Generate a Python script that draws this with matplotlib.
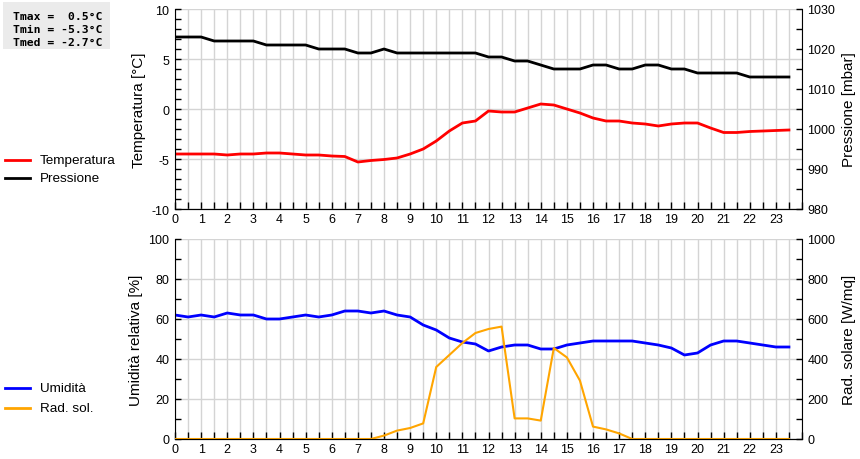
import numpy as np
import matplotlib
matplotlib.use('Agg')
import matplotlib.pyplot as plt
from matplotlib.lines import Line2D
from matplotlib.patches import Rectangle
from matplotlib.ticker import MultipleLocator

plt.rcParams['font.family'] = ['Liberation Sans', 'DejaVu Sans']
plt.rcParams['axes.unicode_minus'] = False

# orari ogni mezz'ora
ore = np.arange(48) * 0.5

temperatura = [-4.5, -4.5, -4.5, -4.5, -4.6, -4.5, -4.5, -4.4, -4.4, -4.5, -4.6, -4.6,
               -4.7, -4.75, -5.3, -5.15, -5.05, -4.9, -4.5, -4.0, -3.2, -2.2, -1.4, -1.2,
               -0.2, -0.3, -0.3, 0.1, 0.5, 0.4, 0.0, -0.4, -0.9, -1.2, -1.2, -1.4,
               -1.5, -1.7, -1.5, -1.4, -1.4, -1.9, -2.35, -2.35, -2.25, -2.2, -2.15, -2.1]

pressione = [1023, 1023, 1023, 1022, 1022, 1022, 1022, 1021, 1021, 1021, 1021, 1020,
             1020, 1020, 1019, 1019, 1020, 1019, 1019, 1019, 1019, 1019, 1019, 1019,
             1018, 1018, 1017, 1017, 1016, 1015, 1015, 1015, 1016, 1016, 1015, 1015,
             1016, 1016, 1015, 1015, 1014, 1014, 1014, 1014, 1013, 1013, 1013, 1013]

umidita = [62, 61, 62, 61, 63, 62, 62, 60, 60, 61, 62, 61,
           62, 64, 64, 63, 64, 62, 61, 57, 54.5, 50.5, 48.5, 47.5,
           44, 46, 47, 47, 45, 45, 47, 48, 49, 49, 49, 49,
           48, 47, 45.5, 42, 43, 47, 49, 49, 48, 47, 46, 46]

radiazione = [0, 0, 0, 0, 0, 0, 0, 0, 0, 0, 0, 0, 0, 0, 0, 0,
              17, 42, 55, 78, 360, 420, 480, 530, 550, 562, 103, 103, 92, 455, 408, 292,
              62, 48, 28, 0, 0, 0, 0, 0, 0, 0, 0, 0, 0, 0, 0, 0]

statistiche = ['Tmax =  0.5°C', 'Tmin = -5.3°C', 'Tmed = -2.7°C']

W, H = 860, 460
fig = plt.figure(figsize=(W / 100, H / 100), dpi=100)


def fx(px):
    return px / W


def fy(py):
    return 1 - py / H


griglia = '#d4d4d4'


def prepara(ax, axr, ylim, yr_lim, maj, mino, rmaj, rmino):
    ax.set_xlim(0, 24)
    ax.set_ylim(*ylim)
    axr.set_ylim(*yr_lim)
    ax.xaxis.set_major_locator(MultipleLocator(1))
    ax.xaxis.set_minor_locator(MultipleLocator(0.5))
    ax.set_xticks(range(24))
    ax.yaxis.set_major_locator(MultipleLocator(maj))
    ax.yaxis.set_minor_locator(MultipleLocator(mino))
    axr.yaxis.set_major_locator(MultipleLocator(rmaj))
    axr.yaxis.set_minor_locator(MultipleLocator(rmino))
    ax.grid(True, which='both', axis='x', color=griglia, lw=1)
    ax.grid(True, which='major', axis='y', color=griglia, lw=1)
    ax.set_axisbelow(True)
    for a in (ax, axr):
        a.spines['top'].set_visible(False)
        a.tick_params(which='both', direction='in', length=4, width=1,
                      labelsize=9, pad=4, colors='black')
    ax.tick_params(axis='x', which='both', length=5, pad=3)
    axr.spines['left'].set_visible(False)
    ax.spines['right'].set_visible(False)


# pannello superiore
ax1 = fig.add_axes([fx(175), fy(210), fx(802 - 175), 200 / H])
ax1r = ax1.twinx()
prepara(ax1, ax1r, (-10, 10), (980, 1030), 5, 1, 10, 5)
ax1.plot(ore, temperatura, color='#ff0000', lw=2)
ax1r.plot(ore, pressione, color='black', lw=2)
ax1.set_ylabel('Temperatura [°C]', fontsize=11, labelpad=4)
ax1r.set_ylabel('Pressione [mbar]', fontsize=11, labelpad=5)

# pannello inferiore
ax2 = fig.add_axes([fx(175), fy(440), fx(802 - 175), 200 / H])
ax2r = ax2.twinx()
prepara(ax2, ax2r, (0, 100), (0, 1000), 20, 10, 200, 100)
ax2.plot(ore, umidita, color='#0000ff', lw=2)
ax2r.plot(ore, radiazione, color='#ffa500', lw=1.5)
ax2.set_ylabel('Umidità relativa [%]', fontsize=11, labelpad=4)
ax2r.set_ylabel('Rad. solare [W/mq]', fontsize=11, labelpad=5)

# legende a sinistra
legende = [('Temperatura', '#ff0000', 161), ('Pressione', 'black', 179),
           ('Umidità', '#0000ff', 389), ('Rad. sol.', '#ffa500', 409)]
for testo, col, py in legende:
    fig.add_artist(Line2D([fx(5), fx(30)], [fy(py), fy(py)], color=col, lw=2))
    fig.text(fx(40), fy(py), testo, fontsize=9.7, va='center', ha='left')

# riquadro statistiche
fig.add_artist(Rectangle((fx(3), fy(50)), fx(107), 47 / H, transform=fig.transFigure,
                         facecolor='#ebebeb', edgecolor='none'))
for i, riga in enumerate(statistiche):
    fig.text(fx(13), fy(17 + 13 * i), riga, family='DejaVu Sans Mono', weight='bold',
             fontsize=8.2, va='center', ha='left')

fig.savefig('out.png', dpi=100)
